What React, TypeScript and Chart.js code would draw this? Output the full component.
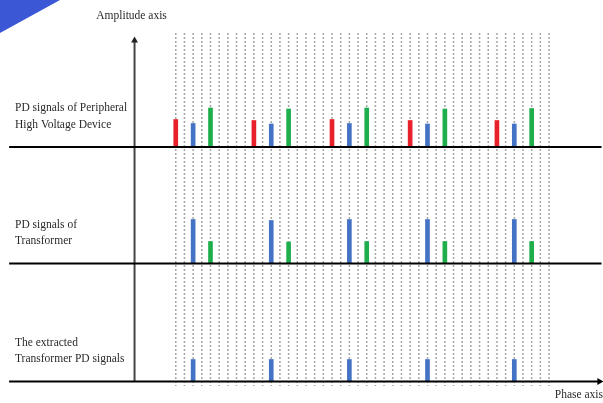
import React, { useEffect, useRef } from "react";
import { Chart, registerables } from "chart.js";

Chart.register(...registerables);

// ---- Data ----
// Phase positions (grid-line index) of each signal group
const redPos = [0, 9, 18, 27, 37];
const bluePos = [2, 11, 20, 29, 39];
const greenPos = [4, 13, 22, 31, 41];

// Band 1: PD signals of peripheral high voltage device
const periphRed = [27.5, 26.5, 27.5, 26.5, 26.5];
const periphBlue = [23.5, 23, 23.5, 23, 23];
const periphGreen = [39, 38, 39, 38, 38.5];
// Band 2: PD signals of transformer
const trafoBlue = [44, 43, 44, 44, 44];
const trafoGreen = [22, 21.5, 22, 22, 22];
// Band 3: extracted transformer PD signals
const extractedBlue = [22, 22, 22, 22, 22];

const GRID_LINES = 44;
const BAND_LABELS = [
  ["PD signals of Peripheral", "High Voltage Device"],
  ["PD signals of", "Transformer"],
  ["The extracted", "Transformer PD signals"],
];
const Y_AXIS_TITLE = "Amplitude axis";
const X_AXIS_TITLE = "Phase axis";

// ---- Layout constants (data units) ----
const X_MIN = -20.25;
const X_MAX = 49.22;
const Y_MIN = -21.5;
const Y_MAX = 381.5;
const BAND_BASE = [234.5, 118, 0];
const AXIS_LEFT = -19.2;
const AXIS_RIGHT = 49.05;
const V_AXIS_X = -4.75;
const V_AXIS_TOP = 345;
const GRID_TOP = 348.5;
const GRID_BOTTOM = -4.5;

const RED = "#e8202a";
const BLUE = "#4472c4";
const GREEN = "#1fae4c";

function bars(pos: number[], vals: number[], base: number) {
  return pos.map((p, i) => ({ x: p, y: [base, base + vals[i]] }));
}

export default function App() {
  const ref = useRef<HTMLCanvasElement | null>(null);
  useEffect(() => {
    document.body.style.margin = "0";
    const canvas = ref.current!;
    const gridData: any[] = [];
    for (let i = 0; i < GRID_LINES; i++) {
      gridData.push({ x: i, y: GRID_TOP }, { x: i, y: GRID_BOTTOM }, { x: i, y: null });
    }
    const barDs = (data: any[], color: string) => ({
      type: "bar" as const,
      data,
      backgroundColor: color,
      borderWidth: 0,
      barThickness: 4,
      grouped: false,
      order: 5,
    });
    const axisDs = (data: any[], color: string) => ({
      type: "line" as const,
      data,
      borderColor: color,
      borderWidth: 2,
      pointRadius: 0,
      order: 1,
    });

    const textPlugin = {
      id: "texts",
      beforeDraw(chart: any) {
        const ctx = chart.ctx;
        ctx.save();
        ctx.fillStyle = "#3b57d6";
        ctx.beginPath();
        ctx.moveTo(0, 0);
        ctx.lineTo(60, 0);
        ctx.lineTo(0, 33);
        ctx.closePath();
        ctx.fill();
        ctx.restore();
      },
      afterDraw(chart: any) {
        const ctx = chart.ctx;
        const ys = chart.scales.y;
        const xs = chart.scales.x;
        ctx.save();
        ctx.fillStyle = "#2a2a2a";
        ctx.font = "11.5px 'Liberation Serif', serif";
        ctx.textBaseline = "alphabetic";
        BAND_LABELS.forEach((lines, b) => {
          const base = ys.getPixelForValue(BAND_BASE[b]);
          ctx.textAlign = "left";
          ctx.fillText(lines[0], 15, base - 36);
          ctx.fillText(lines[1], 15, base - 19.5);
        });
        ctx.textAlign = "center";
        ctx.fillText(Y_AXIS_TITLE, xs.getPixelForValue(V_AXIS_X) - 3, 19);
        ctx.textAlign = "right";
        ctx.fillText(X_AXIS_TITLE, 603, 397.5);
        ctx.restore();
      },
    };

    const chart = new Chart(canvas, {
      type: "bar",
      data: {
        datasets: [
          {
            type: "line",
            data: gridData,
            borderColor: "#a6a6a6",
            borderWidth: 1.5,
            borderDash: [2, 2],
            pointRadius: 0,
            spanGaps: false,
            order: 10,
          } as any,
          barDs(bars(redPos, periphRed, BAND_BASE[0]), RED),
          barDs(bars(bluePos, periphBlue, BAND_BASE[0]), BLUE),
          barDs(bars(greenPos, periphGreen, BAND_BASE[0]), GREEN),
          barDs(bars(bluePos, trafoBlue, BAND_BASE[1]), BLUE),
          barDs(bars(greenPos, trafoGreen, BAND_BASE[1]), GREEN),
          barDs(bars(bluePos, extractedBlue, BAND_BASE[2]), BLUE),
          axisDs([{ x: AXIS_LEFT, y: BAND_BASE[0] }, { x: AXIS_RIGHT, y: BAND_BASE[0] }], "#000"),
          axisDs([{ x: AXIS_LEFT, y: BAND_BASE[1] }, { x: AXIS_RIGHT, y: BAND_BASE[1] }], "#000"),
          axisDs([{ x: AXIS_LEFT, y: BAND_BASE[2] }, { x: AXIS_RIGHT - 0.3, y: BAND_BASE[2] }], "#000"),
          axisDs([{ x: V_AXIS_X, y: BAND_BASE[2] }, { x: V_AXIS_X, y: V_AXIS_TOP - 4 }], "#444"),
          {
            type: "line",
            data: [{ x: AXIS_RIGHT - 0.25, y: BAND_BASE[2] }],
            pointStyle: "triangle",
            rotation: 90,
            pointRadius: 4,
            pointBackgroundColor: "#000",
            pointBorderColor: "#000",
            pointBorderWidth: 0,
            showLine: false,
            order: 0,
          } as any,
          {
            type: "line",
            data: [{ x: V_AXIS_X, y: V_AXIS_TOP - 4 }],
            pointStyle: "triangle",
            rotation: 0,
            pointRadius: 4,
            pointBackgroundColor: "#222",
            pointBorderColor: "#222",
            pointBorderWidth: 0,
            showLine: false,
            order: 0,
          } as any,
        ] as any,
      },
      options: {
        animation: false,
        responsive: false,
        devicePixelRatio: 1,
        layout: { padding: 0, autoPadding: false },
        plugins: { legend: { display: false }, tooltip: { enabled: false } },
        events: [],
        scales: {
          x: { type: "linear", min: X_MIN, max: X_MAX, display: false, offset: false },
          y: { type: "linear", min: Y_MIN, max: Y_MAX, display: false },
        },
      },
      plugins: [textPlugin],
    });
    return () => chart.destroy();
  }, []);
  return (
    <div style={{ width: 603, height: 403, background: "#fff" }}>
      <canvas ref={ref} width={603} height={403} />
    </div>
  );
}
